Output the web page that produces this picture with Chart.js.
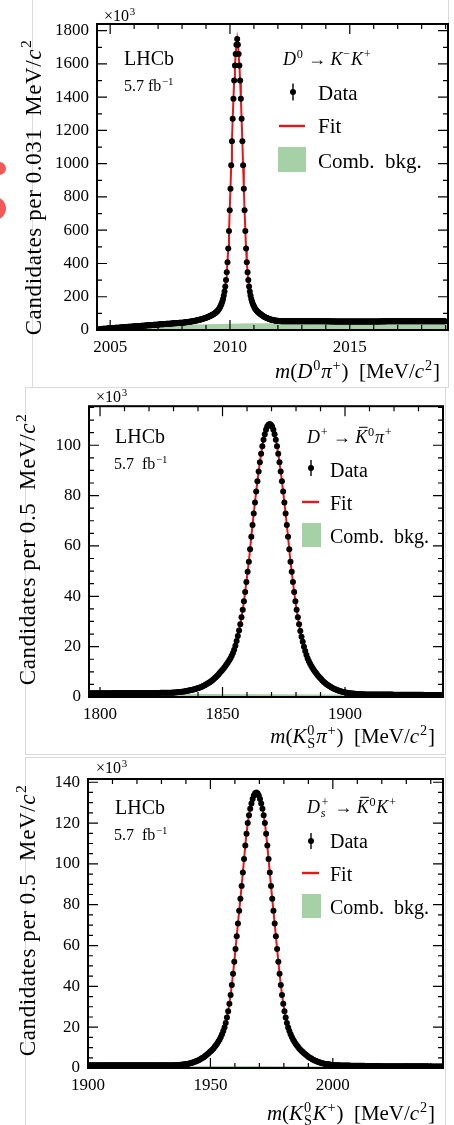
<!DOCTYPE html>
<html>
<head>
<meta charset="utf-8">
<script src="https://cdn.jsdelivr.net/npm/chart.js@4.4.1/dist/chart.umd.min.js"></script>
<style>
  html, body { margin: 0; padding: 0; background: #fff; }
  body { position: relative; width: 454px; height: 1125px; overflow: hidden; }
  .frame { position: absolute; border: 1px solid #dadada; box-sizing: border-box; }
  .blob { position: absolute; border-radius: 50%; background: #f25a5a; }
  canvas { position: absolute; left: 0; }
</style>
</head>
<body>
<div class="frame" style="left:32px; top:-2px; width:417px; height:390px;"></div>
<div class="frame" style="left:25px; top:387px; width:421px; height:368px;"></div>
<div class="frame" style="left:25px; top:757px; width:421px; height:380px;"></div>
<div class="blob" style="left:-7px; top:162px; width:13px; height:13px;"></div>
<div class="blob" style="left:-17px; top:197px; width:23px; height:23px;"></div>
<canvas id="kk" width="454" height="388" style="top:0"></canvas>
<canvas id="kspi" width="454" height="367" style="top:388px"></canvas>
<canvas id="ksk" width="454" height="370" style="top:755px"></canvas>
<script>
// ---- D0 -> K-K+ : m(D0 pi+), 0.031 MeV bins, counts in units of 10^3
const kkBinLo = 2004.534;
const kkBinWidth = 0.031;
const kkCounts = [
  5,5,6,6,6,7,7,7,8,8,
  8,9,9,10,10,10,11,11,11,12,
  12,12,13,13,13,14,14,14,15,15,
  15,16,16,16,17,17,18,18,18,19,
  19,19,20,20,20,21,21,21,22,22,
  22,23,23,23,24,24,24,25,25,26,
  26,26,27,27,27,28,28,28,29,29,
  29,30,30,30,31,31,31,32,32,32,
  33,33,34,34,34,35,35,35,36,36,
  36,37,37,37,38,38,38,39,39,39,
  40,40,40,41,41,42,42,42,43,43,
  43,44,
  44,44,45,45,46,47,47,48,48,49,
  50,50,51,52,53,53,54,55,56,57,
  58,59,60,61,62,64,65,66,68,69,
  71,72,74,75,77,79,81,83,85,87,
  90,92,95,98,101,104,108,
  112,117,123,130,138,147,158,171,187,207,
  232,262,300,347,408,490,595,720,850,990,
  1135,1270,1390,1500,1590,1660,1715,
  1750,
  1715,1660,1590,1500,1390,1270,1135,
  990,850,720,595,490,408,347,300,262,232,
  207,187,171,158,147,138,130,123,117,112,
  108,104,100,97,93,90,87,84,81,78,
  76,74,72,70,68,66,65,63,62,61,
  60,59,58,57,56,56,55,55,54,54,
  54,53,53,53,
  53,53,52,53,52,52,52,52,52,52,
  52,52,52,52,52,52,52,52,52,52,
  52,52,52,52,52,52,52,52,52,52,
  52,52,52,52,52,52,52,52,52,52,
  52,52,52,52,52,52,52,52,52,52,
  52,52,52,52,52,52,52,52,51,52,
  52,52,51,52,51,52,51,51,52,51,
  51,51,51,51,51,51,51,51,51,51,
  51,51,51,51,51,51,51,51,51,51,
  51,51,51,51,51,51,51,51,51,51,
  51,51,51,51,51,51,51,51,51,51,
  51,51,51,51,51,51,51,51,51,51,
  51,51,51,51,51,51,51,51,51,51,
  51,52,51,52,51,52,52,51,52,52,
  52,52,52,52,52,52,52,52,52,52,
  52,52,52,52,52,52,52,52,52,52,
  52,52,52,52,52,52,52,52,52,52,
  52,52,52,52,52,52,52,52,52,52,
  52,52,52,52,52,52,52,52,52,52,
  53,53,53,53,53,53,53,53,53,53,
  53,53,53,53,53,53,53,53,53,53,
  53,53,53,53,53,53,53,53,53
];
const kkBkgMass = [2004.41, 2004.5, 2004.75, 2005, 2005.5, 2006, 2006.5, 2007, 2007.5, 2008, 2009, 2010, 2011, 2012, 2013, 2014, 2015, 2016, 2017, 2018, 2019.1];
const kkBkg = [0, 3, 6, 8, 12, 16, 20, 24, 28, 31, 35, 38, 40, 41, 41, 42, 42, 43, 43, 44, 44];
const kkXTicks = [2005, 2010, 2015];
const kkYTicks = [0, 200, 400, 600, 800, 1000, 1200, 1400, 1600, 1800];

// ---- D+ -> K0bar pi+ : m(KS pi+), 0.5 MeV bins, counts in units of 10^3
const kspiBinLo = 1795.75;
const kspiBinWidth = 0.5;
const kspiCounts = [
  1.5,1.5,1.5,1.5,1.5,1.5,1.5,1.5,1.5,1.5,
  1.5,1.5,1.5,1.5,1.5,1.5,1.5,1.5,1.5,1.5,
  1.6,1.6,1.6,1.6,1.6,1.6,1.6,1.6,1.6,1.6,
  1.6,1.6,1.6,1.6,1.6,1.6,1.6,1.6,1.6,1.6,
  1.6,1.6,1.6,1.6,1.6,1.6,1.6,1.6,
  1.6,1.6,1.6,1.6,1.6,1.6,1.6,1.6,1.6,1.6,
  1.7,1.7,1.7,1.7,1.7,1.7,1.7,1.7,1.7,
  1.7,1.8,1.8,1.8,1.9,1.9,2.0,2.0,2.1,2.1,
  2.2,2.3,2.4,2.5,2.6,2.7,2.8,2.9,3.0,3.2,
  3.3,3.5,3.6,3.8,4.0,4.2,4.5,4.7,5.0,5.3,
  5.6,5.9,6.2,6.6,7.0,7.4,7.8,8.3,8.8,9.4,
  10.0,10.5,11.1,11.7,12.4,13.1,13.8,14.6,15.4,16.4,
  17.5,18.8,20.4,22.2,24.2,26.4,28.9,31.7,34.7,38.0,
  41.7,45.7,49.7,53.7,58.7,63.6,68.3,72.9,77.3,81.6,
  85.7,89.6,93.2,96.6,99.6,102.2,104.4,106.1,107.4,108.1,
  108.4,
  108.1,107.4,106.1,104.4,102.2,99.6,96.6,93.2,89.6,85.7,
  81.6,77.3,72.9,68.3,63.6,58.7,53.7,49.7,45.7,41.7,
  38.0,34.7,31.7,28.9,26.2,23.9,21.9,20.0,18.3,16.7,
  15.3,14.2,13.2,12.3,11.5,10.7,10.0,9.4,8.7,8.1,
  7.6,7.1,6.6,6.1,5.7,5.3,4.9,4.6,4.3,4.0,
  3.7,3.4,3.2,3.0,2.8,2.6,2.4,2.3,2.1,2.0,
  1.9,1.8,1.7,1.6,1.5,1.5,1.4,1.4,1.3,1.3,
  1.2,1.2,1.2,1.1,1.1,1.1,1.1,1.0,1.0,1.0,
  1.0,1.0,1.0,1.0,1.0,1.0,1.0,1.0,1.0,1.0,
  1.0,1.0,1.0,1.0,1.0,1.0,1.0,1.0,1.0,1.0,
  0.9,0.9,0.9,0.9,0.9,0.9,0.9,0.9,0.9,0.9,
  0.9,0.9,0.9,0.9,0.9,0.9,0.9,0.9,0.9,0.9,
  0.9,0.9,0.9,0.9,0.9,
  0.8,0.8,0.8,0.8,0.8,0.8,0.8,0.8,0.8,0.8,
  0.8,0.8,0.8,0.8,0.8,0.8
];
const kspiBkgMass = [1795.5, 1870, 1940];
const kspiBkg = [1.4, 1.1, 0.75];
const kspiXTicks = [1800, 1850, 1900];
const kspiYTicks = [0, 20, 40, 60, 80, 100];

// ---- Ds+ -> K0bar K+ : m(KS K+), 0.5 MeV bins, counts in units of 10^3
const kskBinLo = 1900.25;
const kskBinWidth = 0.5;
const kskCounts = [
  1.3,1.3,1.3,1.3,1.3,1.3,1.3,1.3,1.3,1.3,
  1.3,1.3,1.3,1.3,1.3,1.3,1.3,1.3,1.3,1.3,
  1.3,1.3,1.3,1.3,1.3,1.3,1.3,1.3,1.3,1.3,
  1.3,1.3,1.3,1.3,1.3,1.3,1.3,1.3,1.3,1.3,
  1.3,1.3,1.3,1.3,1.3,1.3,1.3,1.3,1.3,1.3,
  1.3,1.3,1.3,1.3,1.3,1.3,
  1.4,1.4,1.4,1.4,1.4,1.4,1.4,1.4,1.4,1.4,1.4,
  1.4,1.4,1.4,1.4,1.5,1.5,1.5,1.5,1.6,1.6,
  1.7,1.8,1.8,1.9,2.0,2.2,2.3,2.5,2.7,2.9,
  3.1,3.4,3.6,3.9,4.2,4.6,4.9,5.3,5.8,6.2,
  6.7,7.2,7.8,8.3,8.9,9.6,10.4,11.2,12.0,13.0,
  14.0,15.2,16.5,18.1,19.9,22.1,24.7,27.8,31.5,35.8,
  40.7,46.2,52.1,58.3,64.6,70.8,77.0,82.9,89.2,95.8,
  102.4,109.0,114.8,120.0,123.9,127.0,129.6,131.8,133.5,134.6,
  135.0,
  134.6,133.5,131.8,129.6,127.0,123.9,120.0,114.8,109.0,102.4,
  95.8,89.2,82.9,77.0,70.8,64.6,58.3,52.1,46.2,40.7,
  35.8,31.5,27.8,24.7,22.1,19.9,18.1,16.5,15.2,14.0,
  13.0,12.0,11.2,10.4,9.6,8.9,8.3,7.8,7.2,6.7,
  6.2,5.8,5.3,4.9,4.6,4.2,3.9,3.6,3.4,3.1,
  2.9,2.7,2.5,2.3,2.2,2.0,1.9,1.8,1.8,1.7,
  1.6,1.5,1.5,1.4,1.4,1.3,1.3,1.3,1.2,1.2,
  1.2,1.2,1.2,1.2,1.2,1.2,
  1.1,1.1,1.1,1.1,1.1,1.1,1.1,1.1,1.1,1.1,1.1,1.1,
  1.0,1.0,1.0,1.0,1.0,1.0,1.0,1.0,1.0,1.0,1.0,1.0,
  0.9,0.9,0.9,0.9,0.9,0.9,0.9,0.9,0.9,0.9,
  0.9,0.9,0.9,0.9,0.9,0.9,0.9,0.9,0.9,0.9,
  0.8,0.8,0.8,0.8,0.8,0.8,0.8,0.8,0.8,0.8,
  0.8,0.8,0.8,0.8,0.8,0.8,0.8,0.8,0.8,0.8,
  0.7,0.7,0.7,0.7,0.7,0.7,0.7,0.7,0.7,0.7,0.7,0.7
];
const kskBkgMass = [1900, 1970, 2045];
const kskBkg = [1.2, 0.95, 0.65];
const kskXTicks = [1900, 1950, 2000];
const kskYTicks = [0, 20, 40, 60, 80, 100, 120, 140];

const SERIF = "'Liberation Serif', 'DejaVu Serif', serif";
const GREEN = 'rgb(166, 209, 166)';
const RED = 'rgb(232, 22, 22)';

function fontOf(size, italic) {
  return (italic ? 'italic ' : '') + size + 'px ' + SERIF;
}

// text made of pieces: {t, i (italic), sup, sub, si (italic sub), bar}
function richWidth(ctx, segs, size) {
  let w = 0;
  for (const s of segs) {
    ctx.font = fontOf(size, s.i);
    s.w = s.t ? ctx.measureText(s.t).width : 0;
    ctx.font = fontOf(size * 0.68, s.si);
    let sw = 0;
    if (s.sup) sw = Math.max(sw, ctx.measureText(s.sup).width);
    if (s.sub) sw = Math.max(sw, ctx.measureText(s.sub).width);
    s.sw = sw ? sw + size * 0.08 : 0;
    w += s.w + s.sw;
  }
  return w;
}

function drawRich(ctx, segs, x, y, size, align) {
  const w = richWidth(ctx, segs, size);
  let cx = align === 'right' ? x - w : align === 'center' ? x - w / 2 : x;
  ctx.textAlign = 'left';
  ctx.textBaseline = 'alphabetic';
  for (const s of segs) {
    if (s.t) {
      ctx.font = fontOf(size, s.i);
      ctx.fillText(s.t, cx, y);
      if (s.bar) ctx.fillRect(cx + s.w * 0.3, y - size * 0.9, s.w * 0.72, Math.max(1, size * 0.055));
    }
    cx += s.w;
    ctx.font = fontOf(size * 0.68, s.si);
    if (s.sup) ctx.fillText(s.sup, cx + size * 0.04, y - size * 0.4);
    if (s.sub) ctx.fillText(s.sub, cx + size * 0.04, y + size * 0.22);
    cx += s.sw;
  }
}

// inward ticks on all sides, frame, labels and legend
function decor(spec) {
  return {
    id: 'decor',
    afterDraw(chart) {
      const ctx = chart.ctx;
      const a = chart.chartArea;
      const xs = chart.scales.x, ys = chart.scales.y;
      ctx.save();
      ctx.strokeStyle = '#000';
      ctx.fillStyle = '#000';
      ctx.lineWidth = 1.2;
      ctx.beginPath();
      const xr = Math.round(spec.xMajor / spec.xMinor);
      for (let n = Math.ceil(xs.min / spec.xMinor); n * spec.xMinor <= xs.max; n++) {
        const px = xs.getPixelForValue(n * spec.xMinor);
        const len = n % xr === 0 ? 10 : 5;
        ctx.moveTo(px, a.bottom); ctx.lineTo(px, a.bottom - len);
        ctx.moveTo(px, a.top); ctx.lineTo(px, a.top + len);
      }
      const yr = Math.round(spec.yMajor / spec.yMinor);
      for (let n = Math.ceil(ys.min / spec.yMinor); n * spec.yMinor <= ys.max; n++) {
        const py = ys.getPixelForValue(n * spec.yMinor);
        const len = n % yr === 0 ? 10 : 5;
        ctx.moveTo(a.left, py); ctx.lineTo(a.left + len, py);
        ctx.moveTo(a.right, py); ctx.lineTo(a.right - len, py);
      }
      ctx.stroke();
      ctx.lineWidth = 2;
      ctx.strokeRect(a.left, a.top, a.right - a.left, a.bottom - a.top);

      for (const t of spec.texts) drawRich(ctx, t.segs, t.x, t.y, t.size, t.align);

      // axis titles
      drawRich(ctx, spec.xTitle.segs, spec.xTitle.x, spec.xTitle.y, spec.xTitle.size, 'right');
      ctx.save();
      ctx.translate(spec.yTitle.x, spec.yTitle.y);
      ctx.rotate(-Math.PI / 2);
      ctx.letterSpacing = spec.yTitle.spacing;
      drawRich(ctx, spec.yTitle.segs, 0, 0, spec.yTitle.size, 'center');
      ctx.restore();

      // legend
      const L = spec.legend;
      ctx.fillStyle = '#000';
      ctx.beginPath();
      ctx.arc(L.markX, L.dataY, 3, 0, Math.PI * 2);
      ctx.fill();
      ctx.lineWidth = 1.4;
      ctx.beginPath();
      ctx.moveTo(L.markX, L.dataY - L.err); ctx.lineTo(L.markX, L.dataY + L.err);
      ctx.stroke();
      ctx.strokeStyle = RED;
      ctx.lineWidth = 2.4;
      ctx.beginPath();
      ctx.moveTo(L.lineX0, L.fitY); ctx.lineTo(L.lineX1, L.fitY);
      ctx.stroke();
      ctx.fillStyle = GREEN;
      ctx.fillRect(L.box[0], L.box[1], L.box[2], L.box[3]);
      ctx.fillStyle = '#000';
      drawRich(ctx, [{ t: 'Data' }], L.textX, L.textY[0], L.size, 'left');
      drawRich(ctx, [{ t: 'Fit' }], L.textX, L.textY[1], L.size, 'left');
      drawRich(ctx, [{ t: 'Comb.  bkg.' }], L.textX, L.textY[2], L.size, 'left');
      ctx.restore();
    }
  };
}

function makeChart(id, p) {
  const canvas = document.getElementById(id);
  const points = p.counts.map((c, i) => ({ x: p.binLo + i * p.binWidth, y: c }));
  const bkg = p.bkgMass.map((m, i) => ({ x: m, y: p.bkg[i] }));
  const tickFont = { family: SERIF, size: 17 };
  return new Chart(canvas, {
    type: 'scatter',
    data: {
      datasets: [
        { label: 'Data', data: points, order: 0,
          pointRadius: 3, pointBackgroundColor: '#000', pointBorderWidth: 0 },
        // fit curve evaluated at the bin centres
        { label: 'Fit', type: 'line', data: points, order: 1,
          borderColor: RED, borderWidth: 2, pointRadius: 0, fill: false },
        { label: 'Comb. bkg.', type: 'line', data: bkg, order: 2,
          borderWidth: 0, pointRadius: 0, fill: 'origin', backgroundColor: GREEN }
      ]
    },
    options: {
      responsive: false,
      animation: false,
      events: [],
      layout: { padding: { left: 0, top: p.area.top, right: canvas.width - p.area.right, bottom: 0 } },
      plugins: { legend: { display: false }, tooltip: { enabled: false } },
      scales: {
        x: {
          type: 'linear', min: p.xMin, max: p.xMax,
          afterFit: s => { s.height = canvas.height - p.area.bottom; },
          afterBuildTicks: s => { s.ticks = p.xTicks.map(v => ({ value: v })); },
          grid: { display: false, drawTicks: false },
          border: { display: false },
          ticks: { autoSkip: false, maxRotation: 0, padding: 7, color: '#000', font: tickFont,
                   callback: v => String(v) }
        },
        y: {
          type: 'linear', min: 0, max: p.yMax,
          afterFit: s => { s.width = p.area.left; },
          afterBuildTicks: s => { s.ticks = p.yTicks.map(v => ({ value: v })); },
          grid: { display: false, drawTicks: false },
          border: { display: false },
          ticks: { autoSkip: false, padding: 8, color: '#000', font: tickFont,
                   callback: v => String(v) }
        }
      }
    },
    plugins: [decor(p.spec)]
  });
}

const times3 = [{ t: '\u00d710', sup: '3' }];
const cSq = { t: 'c', i: true, sup: '2' };

makeChart('kk', {
  counts: kkCounts, binLo: kkBinLo, binWidth: kkBinWidth,
  bkgMass: kkBkgMass, bkg: kkBkg, xTicks: kkXTicks, yTicks: kkYTicks,
  xMin: 2004.45, xMax: 2019.1, yMax: 1840,
  area: { left: 97, top: 24, right: 448, bottom: 330 },
  spec: {
    xMinor: 1, xMajor: 5, yMinor: 100, yMajor: 200,
    texts: [
      { segs: times3, x: 104, y: 21, size: 16 },
      { segs: [{ t: 'LHCb' }], x: 124, y: 65, size: 20 },
      { segs: [{ t: '5.7 fb', sup: '\u22121' }], x: 124, y: 91, size: 16 },
      { segs: [{ t: 'D', i: true, sup: '0' }, { t: ' \u2192 ' }, { t: 'K', i: true, sup: '\u2212' }, { t: 'K', i: true, sup: '+' }],
        x: 283, y: 65, size: 18 }
    ],
    xTitle: { segs: [{ t: 'm', i: true }, { t: '(' }, { t: 'D', i: true, sup: '0' }, { t: '\u03c0', i: true, sup: '+' },
                     { t: ')  [MeV/' }, cSq, { t: ']' }], x: 440, y: 378, size: 21 },
    yTitle: { segs: [{ t: 'Candidates per 0.031  MeV/' }, cSq], x: 40.5, y: 187, size: 23, spacing: '0.6px' },
    legend: { markX: 293, dataY: 92, err: 8.5, fitY: 126, lineX0: 279, lineX1: 305,
              box: [278, 147, 28, 25], textX: 318, textY: [100, 133, 168], size: 21 }
  }
});

makeChart('kspi', {
  counts: kspiCounts, binLo: kspiBinLo, binWidth: kspiBinWidth,
  bkgMass: kspiBkgMass, bkg: kspiBkg, xTicks: kspiXTicks, yTicks: kspiYTicks,
  xMin: 1795.5, xMax: 1940, yMax: 115.5,
  area: { left: 89, top: 16, right: 443, bottom: 309 },
  spec: {
    xMinor: 10, xMajor: 50, yMinor: 5, yMajor: 20,
    texts: [
      { segs: times3, x: 96, y: 14, size: 16 },
      { segs: [{ t: 'LHCb' }], x: 115, y: 55, size: 20 },
      { segs: [{ t: '5.7  fb', sup: '\u22121' }], x: 114, y: 81, size: 16 },
      { segs: [{ t: 'D', i: true, sup: '+' }, { t: ' \u2192 ' }, { t: 'K', i: true, bar: true, sup: '0' }, { t: '\u03c0', i: true, sup: '+' }],
        x: 307, y: 55, size: 18 }
    ],
    xTitle: { segs: [{ t: 'm', i: true }, { t: '(' }, { t: 'K', i: true, sup: '0', sub: 'S' }, { t: '\u03c0', i: true, sup: '+' },
                     { t: ')  [MeV/' }, cSq, { t: ']' }], x: 435, y: 355, size: 21 },
    yTitle: { segs: [{ t: 'Candidates per 0.5  MeV/' }, cSq], x: 35, y: 161, size: 23, spacing: '0.6px' },
    legend: { markX: 311, dataY: 80, err: 8, fitY: 114, lineX0: 302, lineX1: 319,
              box: [302, 135, 19, 24], textX: 330, textY: [89, 122, 155], size: 20 }
  }
});

makeChart('ksk', {
  counts: kskCounts, binLo: kskBinLo, binWidth: kskBinWidth,
  bkgMass: kskBkgMass, bkg: kskBkg, xTicks: kskXTicks, yTicks: kskYTicks,
  xMin: 1900, xMax: 2045, yMax: 141.6,
  area: { left: 88, top: 24, right: 443, bottom: 313 },
  spec: {
    xMinor: 10, xMajor: 50, yMinor: 5, yMajor: 20,
    texts: [
      { segs: times3, x: 96, y: 18, size: 16 },
      { segs: [{ t: 'LHCb' }], x: 115, y: 59, size: 20 },
      { segs: [{ t: '5.7  fb', sup: '\u22121' }], x: 114, y: 85, size: 16 },
      { segs: [{ t: 'D', i: true, sup: '+', sub: 's', si: true }, { t: ' \u2192 ' }, { t: 'K', i: true, bar: true, sup: '0' }, { t: 'K', i: true, sup: '+' }],
        x: 307, y: 58, size: 18 }
    ],
    xTitle: { segs: [{ t: 'm', i: true }, { t: '(' }, { t: 'K', i: true, sup: '0', sub: 'S' }, { t: 'K', i: true, sup: '+' },
                     { t: ')  [MeV/' }, cSq, { t: ']' }], x: 435, y: 365, size: 21 },
    yTitle: { segs: [{ t: 'Candidates per 0.5  MeV/' }, cSq], x: 35, y: 165, size: 23, spacing: '0.6px' },
    legend: { markX: 311, dataY: 86, err: 8, fitY: 118, lineX0: 302, lineX1: 319,
              box: [302, 139, 19, 24], textX: 330, textY: [93, 126, 159], size: 20 }
  }
});
</script>
</body>
</html>
